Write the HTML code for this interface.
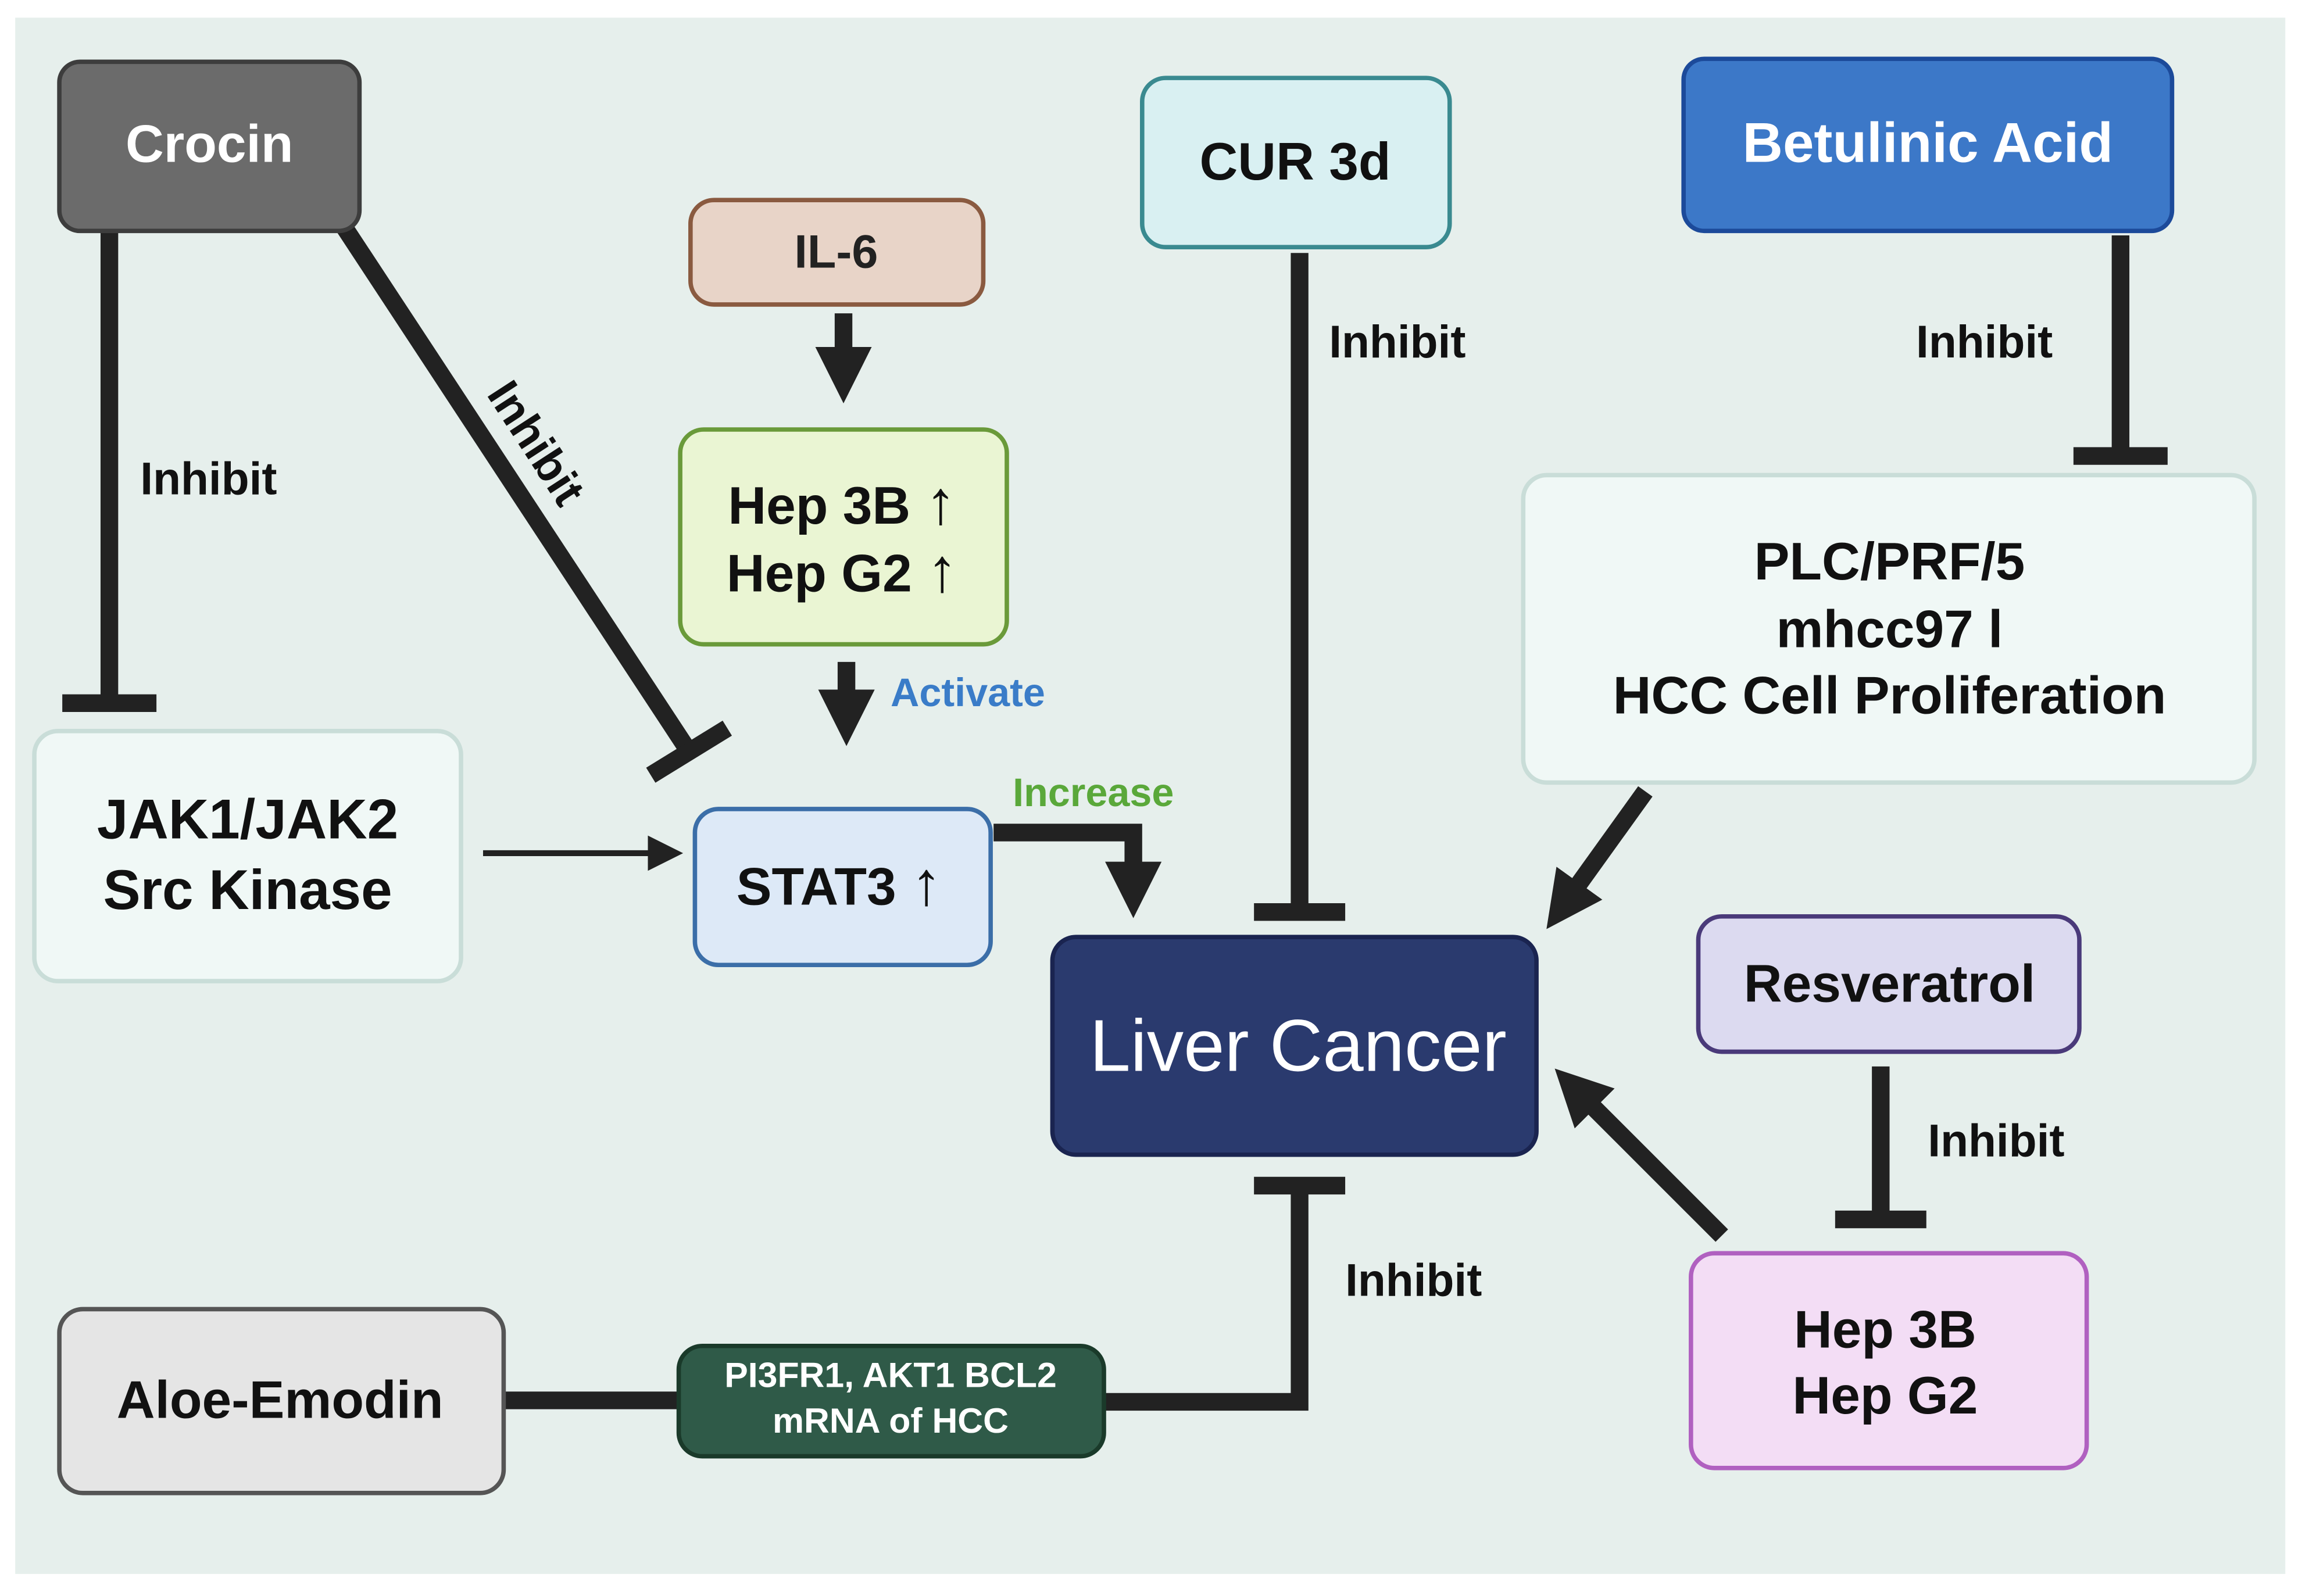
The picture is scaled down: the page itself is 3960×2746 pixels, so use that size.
<!DOCTYPE html>
<html><head><meta charset="utf-8"><style>
html,body{margin:0;padding:0;background:#fff;}
svg{display:block;}
text{font-family:"Liberation Sans",sans-serif;font-weight:bold;}
</style></head><body>
<svg width="3960" height="2746" viewBox="0 0 1564 1085" xmlns="http://www.w3.org/2000/svg">
<defs>
<marker id="ah" viewBox="0 0 10 10" refX="5" refY="5" markerWidth="3.2" markerHeight="3.2" orient="auto" markerUnits="strokeWidth"><path d="M0,0 L10,5 L0,10 z" fill="#222"/></marker>
<marker id="ah2" viewBox="0 0 10 10" refX="5" refY="5" markerWidth="6" markerHeight="6" orient="auto" markerUnits="strokeWidth"><path d="M0,0 L10,5 L0,10 z" fill="#222"/></marker>
</defs>
<rect x="10" y="12" width="1543" height="1058" fill="#e6efec"/>

<g stroke="#222" stroke-width="12" fill="none">
<line x1="74" y1="157" x2="74" y2="478"/>
<line x1="42" y1="478" x2="106" y2="478"/>
<line x1="234" y1="155" x2="466" y2="508"/>
<line x1="442" y1="527" x2="494" y2="495"/>
<line x1="573" y1="213" x2="573" y2="255" marker-end="url(#ah)"/>
<line x1="575" y1="450" x2="575" y2="488" marker-end="url(#ah)"/>
<path d="M675,566 L770,566 L770,605" marker-end="url(#ah)"/>
<line x1="883" y1="172" x2="883" y2="620"/>
<line x1="852" y1="620" x2="914" y2="620"/>
<line x1="1441" y1="160" x2="1441" y2="310"/>
<line x1="1409" y1="310" x2="1473" y2="310"/>
<line x1="1118" y1="538" x2="1062" y2="616" marker-end="url(#ah)"/>
<line x1="1278" y1="725" x2="1278" y2="829"/>
<line x1="1247" y1="829" x2="1309" y2="829"/>
<line x1="1170" y1="840" x2="1070" y2="740" marker-end="url(#ah)"/>
<line x1="852" y1="806" x2="914" y2="806"/>
<path d="M883,806 L883,953 L750,953"/>
<line x1="342" y1="952" x2="462" y2="952"/>
</g>
<line x1="328" y1="580" x2="452" y2="580" stroke="#222" stroke-width="4" marker-end="url(#ah2)"/>

<g stroke-width="3">
<rect x="40" y="42" width="204" height="115" rx="14" fill="#6b6b6b" stroke="#3d3d3d"/>
<rect x="469" y="136" width="199" height="71" rx="16" fill="#e8d4c8" stroke="#8a5a40"/>
<rect x="462" y="292" width="222" height="146" rx="16" fill="#eaf5d3" stroke="#6a9a3a"/>
<rect x="472" y="550" width="201" height="106" rx="16" fill="#dde9f7" stroke="#3b6ea8"/>
<rect x="23" y="497" width="290" height="170" rx="16" fill="#f0f8f6" stroke="#c9ddd8"/>
<rect x="776" y="53" width="209" height="115" rx="16" fill="#d9f0f2" stroke="#3a8a90"/>
<rect x="1144" y="40" width="332" height="117" rx="14" fill="#3c78c8" stroke="#1c4a9a"/>
<rect x="1035" y="323" width="497" height="209" rx="16" fill="#f0f8f6" stroke="#c9ddd8"/>
<rect x="715" y="637" width="329" height="148" rx="16" fill="#2a3a6e" stroke="#1a2450"/>
<rect x="1154" y="623" width="259" height="92" rx="16" fill="#dcdaf0" stroke="#4a3a7a"/>
<rect x="1149" y="852" width="269" height="146" rx="16" fill="#f3ddf5" stroke="#b060c0"/>
<rect x="40" y="890" width="302" height="125" rx="16" fill="#e5e5e5" stroke="#555"/>
<rect x="461" y="915" width="289" height="75" rx="16" fill="#2f5a48" stroke="#1a3a2a"/>
</g>

<g text-anchor="middle">
<text x="142" y="110" font-size="36" fill="#fff">Crocin</text>
<text x="568" y="182" font-size="32" fill="#222">IL-6</text>
<text x="572" y="356" font-size="36" fill="#111">Hep 3B <tspan font-size="42">↑</tspan></text>
<text x="572" y="402" font-size="36" fill="#111">Hep G2 <tspan font-size="42">↑</tspan></text>
<text x="570" y="615" font-size="36" fill="#111">STAT3 <tspan font-size="42">↑</tspan></text>
<text x="168" y="570" font-size="38" fill="#111">JAK1/JAK2</text>
<text x="168" y="618" font-size="38" fill="#111">Src Kinase</text>
<text x="880" y="122" font-size="36" fill="#111">CUR 3d</text>
<text x="1310" y="110" font-size="38" fill="#fff">Betulinic Acid</text>
<text x="1284" y="394" font-size="36" fill="#111">PLC/PRF/5</text>
<text x="1284" y="440" font-size="36" fill="#111">mhcc97 l</text>
<text x="1284" y="485" font-size="36" fill="#111">HCC Cell Proliferation</text>
<text x="882" y="728" font-size="50" fill="#fff" style="font-weight:normal">Liver Cancer</text>
<text x="1284" y="681" font-size="36" fill="#111">Resveratrol</text>
<text x="1281" y="916" font-size="36" fill="#111">Hep 3B</text>
<text x="1281" y="961" font-size="36" fill="#111">Hep G2</text>
<text x="190" y="964" font-size="36" fill="#111">Aloe-Emodin</text>
<text x="605" y="943" font-size="24" fill="#fff">PI3FR1, AKT1 BCL2</text>
<text x="605" y="974" font-size="24" fill="#fff">mRNA of HCC</text>
</g>
<g font-size="31" fill="#111">
<text x="95" y="336">Inhibit</text>
<text x="903" y="243">Inhibit</text>
<text x="1302" y="243">Inhibit</text>
<text x="1310" y="786">Inhibit</text>
<text x="914" y="881">Inhibit</text>
<text x="0" y="0" transform="translate(330,268) rotate(57)">Inhibit</text>
</g>
<text x="605" y="480" font-size="27" fill="#3a7cc8">Activate</text>
<text x="688" y="548" font-size="27" fill="#5aa83a">Increase</text>
</svg>
</body></html>
